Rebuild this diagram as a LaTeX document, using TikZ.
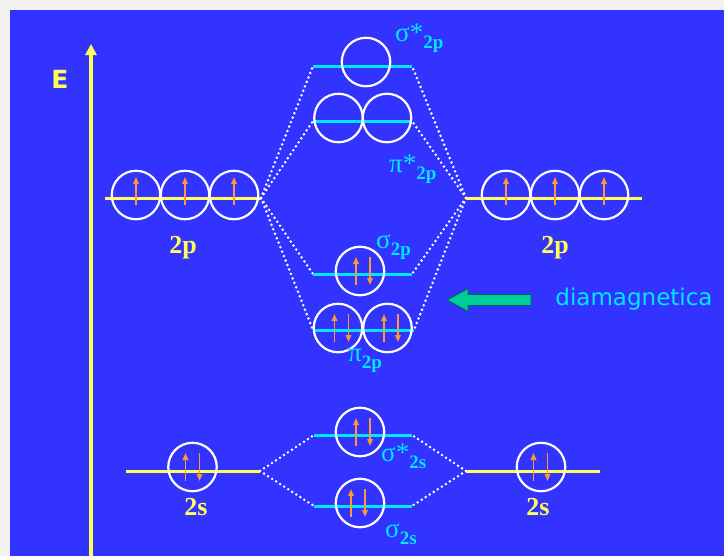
\documentclass[tikz,border=0pt]{standalone}
\usepackage{fontspec}
\setmainfont{Liberation Serif}
\newfontfamily\comicfont{DejaVu Sans}
\usetikzlibrary{arrows.meta}
\definecolor{bgblue}{HTML}{3333FF}
\definecolor{mocyan}{HTML}{00E8FF}
\definecolor{aoyel}{HTML}{FFFF55}
\definecolor{eorange}{HTML}{FF9933}
\definecolor{agreen}{HTML}{00CC99}
\newcommand{\molab}[2]{{\fontsize{27}{27}\selectfont #1\raisebox{-7pt}{\fontsize{19}{19}\selectfont\bfseries #2}}}
\begin{document}
\begin{tikzpicture}[x=1pt,y=-1pt,
  orb/.style={circle,draw=white,line width=2.2pt,minimum size=48.5pt,inner sep=0pt},
  aolevel/.style={draw=aoyel,line width=3pt},
  molevel/.style={draw=mocyan,line width=3pt},
  corr/.style={draw=white,line width=2.8pt,line cap=round,dash pattern=on 0pt off 4.8pt},
  eup/.style={draw=eorange,line width=1.6pt,-{Triangle[length=7pt,width=5.5pt]}},
  aolab/.style={text=aoyel,font=\fontsize{26}{26}\selectfont\bfseries},
  molabel/.style={text=mocyan,anchor=west,inner sep=0pt}]
% background
\fill[black!5] (0,0) rectangle (724,556);
\fill[bgblue] (10,10) rectangle (724,556);
% energy axis
\coordinate (ebot) at (91,556);
\coordinate (etop) at (91,44);
\draw[aoyel,line width=3.4pt,-{Triangle[length=11pt,width=11pt]}] (ebot) -- (etop);
\node[text=aoyel,font=\comicfont\bfseries\fontsize{25}{25}\selectfont] (elab) at (60,79) {E};

% ---------- level coordinates ----------
\coordinate (L2pa) at (105,198); \coordinate (L2pb) at (261,198);
\coordinate (R2pa) at (466,198); \coordinate (R2pb) at (642,198);
\coordinate (L2sa) at (126,471); \coordinate (L2sb) at (260,471);
\coordinate (R2sa) at (466,471); \coordinate (R2sb) at (600,471);
\coordinate (ss2pa) at (313,66);  \coordinate (ss2pb) at (412,66);
\coordinate (ps2pa) at (313,121); \coordinate (ps2pb) at (412,121);
\coordinate (s2pa) at (313,274);  \coordinate (s2pb) at (412,274);
\coordinate (p2pa) at (313,330);  \coordinate (p2pb) at (414,330);
\coordinate (ss2sa) at (314,435); \coordinate (ss2sb) at (412,435);
\coordinate (s2sa) at (314,506);  \coordinate (s2sb) at (412,506);

% correlation (dotted) lines
\draw[corr] (L2pb) -- (ss2pa);
\draw[corr] (L2pb) -- (ps2pa);
\draw[corr] (L2pb) -- (s2pa);
\draw[corr] (L2pb) -- (p2pa);
\draw[corr] (R2pa) -- (ss2pb);
\draw[corr] (R2pa) -- (ps2pb);
\draw[corr] (R2pa) -- (s2pb);
\draw[corr] (R2pa) -- (p2pb);
\draw[corr] (L2sb) -- (ss2sa);
\draw[corr] (L2sb) -- (s2sa);
\draw[corr] (R2sa) -- (ss2sb);
\draw[corr] (R2sa) -- (s2sb);

% level lines
\draw[aolevel] (L2pa) -- (L2pb);
\draw[aolevel] (R2pa) -- (R2pb);
\draw[aolevel] (L2sa) -- (L2sb);
\draw[aolevel] (R2sa) -- (R2sb);
\draw[molevel] (ss2pa) -- (ss2pb);
\draw[molevel] (ps2pa) -- (ps2pb);
\draw[molevel] (s2pa) -- (s2pb);
\draw[molevel] (p2pa) -- (p2pb);
\draw[molevel] (ss2sa) -- (ss2sb);
\draw[molevel] (s2sa) -- (s2sb);

% orbitals
\node[orb] (l2p1) at (136,195) {};
\node[orb] (l2p2) at (185,195) {};
\node[orb] (l2p3) at (234,195) {};
\node[orb] (r2p1) at (506,195) {};
\node[orb] (r2p2) at (555,195) {};
\node[orb] (r2p3) at (604,195) {};
\node[orb] (l2s) at (192.5,467) {};
\node[orb] (r2s) at (541,467) {};
\node[orb] (ss2p) at (366,62) {};
\node[orb] (ps2p1) at (338.5,118) {};
\node[orb] (ps2p2) at (387,118) {};
\node[orb] (s2p) at (360,271) {};
\node[orb] (p2p1) at (338,328) {};
\node[orb] (p2p2) at (387.5,328) {};
\node[orb] (ss2s) at (360,432) {};
\node[orb] (s2s) at (360,503) {};

% electrons
\foreach \o in {l2p1,l2p2,l2p3,r2p1,r2p2,r2p3}{
  \draw[eup] ([yshift=-10pt]\o.center) -- ([yshift=18pt]\o.center);
}
\foreach \o/\d in {l2s/-7,r2s/-7.5,s2p/-4,p2p1/-3.5,p2p2/-3.5,ss2s/-4,s2s/-9}{
  \draw[eup] ([xshift=\d pt,yshift=-14pt]\o.center) -- ([xshift=\d pt,yshift=14pt]\o.center);
  \draw[eup] ([xshift=\d pt+14pt,yshift=14pt]\o.center) -- ([xshift=\d pt+14pt,yshift=-14pt]\o.center);
}

% labels
\node[aolab] (lab2pl) at (183,248) {2p};
\node[aolab] (lab2pr) at (555,248) {2p};
\node[aolab] (lab2sl) at (196,507) {2s};
\node[aolab] (lab2sr) at (538,507) {2s};
\node[molabel] (labss2p) at (395,38) {\molab{σ*}{2p}};
\node[molabel] (labps2p) at (389,169) {\molab{π*}{2p}};
\node[molabel] (labs2p) at (376,247) {\molab{σ}{2p}};
\node[molabel] (labp2p) at (348,361) {\molab{π}{2p}};
\node[molabel] (labss2s) at (381,456) {\molab{σ*}{2s}};
\node[molabel] (labs2s) at (385,534) {\molab{σ}{2s}};

% diamagnetic arrow
\draw[fill=agreen,draw=agreen!50!black,line width=0.9pt,line join=miter]
  (447,300) -- (468,288.5) -- (468,294.5) -- (531,294.5) -- (531,305.5) -- (468,305.5) -- (468,311.5) -- cycle;
\node[text=mocyan,font=\comicfont\fontsize{23}{23}\selectfont] (diam) at (634,299) {diamagnetica};
\end{tikzpicture}
\end{document}
